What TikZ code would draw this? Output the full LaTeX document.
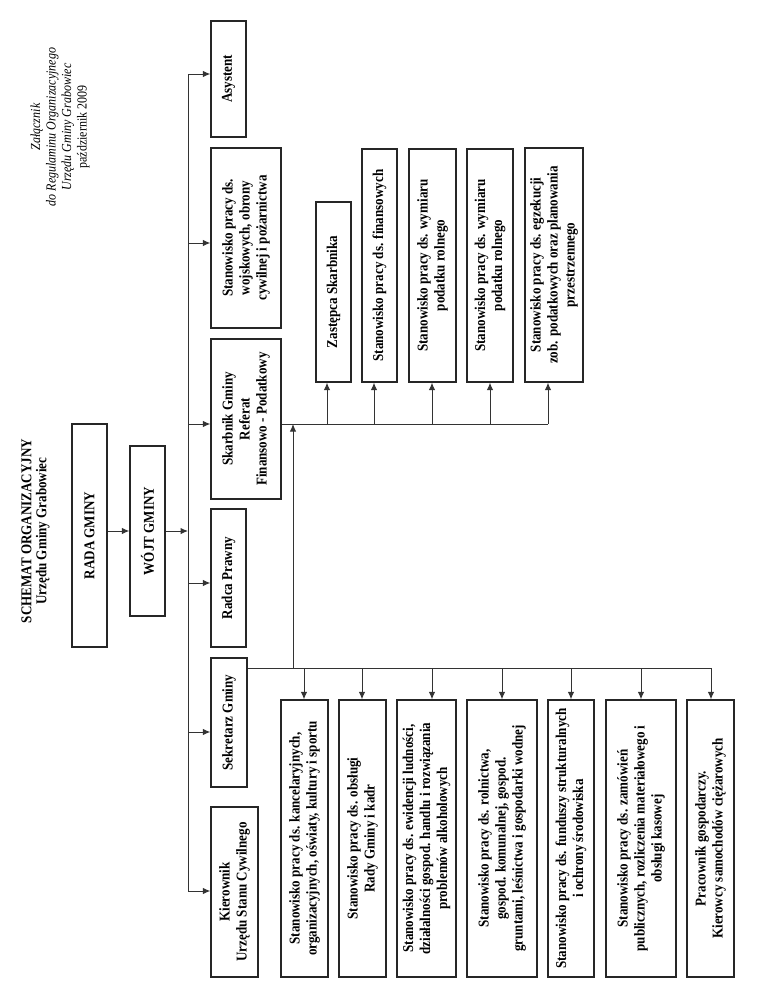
\documentclass[tikz,border=0pt]{standalone}
\usepackage{fontspec}
\setmainfont[FakeStretch=0.87]{Liberation Serif}
\usetikzlibrary{arrows.meta}
\begin{document}
\begin{tikzpicture}[x=1pt,y=-1pt,
  box/.style={draw=black!85, line width=1.3pt, rotate=90, inner sep=0pt, align=center,
              font=\bfseries\fontsize{15}{17}\selectfont},
  conn/.style={draw=black!80, line width=1pt},
  arr/.style={conn, -{Latex[length=7.5pt,width=6.5pt]}},
  lbl/.style={rotate=90, align=center, inner sep=0pt}
]
\path[use as bounding box] (0,0) rectangle (768,994);

% headings
\node[lbl, font=\bfseries\fontsize{15}{15}\selectfont] (title) at (35.5,531)
  {SCHEMAT ORGANIZACYJNY\\ Urzędu Gminy Grabowiec};
\node[lbl, font=\fontsize{13.8}{15.5}\selectfont] (zal) at (60,127)
  {{\itshape Załącznik}\\ {\itshape do Regulaminu Organizacyjnego}\\ {\itshape Urzędu Gminy Grabowiec}\\ październik 2009};

% top levels
\node[box, minimum width=223pt, minimum height=35pt] (rada) at (89.5,535.5) {RADA GMINY};
\node[box, minimum width=170pt, minimum height=35pt] (wojt) at (147.5,531) {WÓJT GMINY};

% level 1
\node[box, minimum width=116pt, minimum height=35pt] (asys) at (228.5,79) {Asystent};
\node[box, minimum width=180pt, minimum height=70pt] (obr) at (246,238)
  {Stanowisko pracy ds.\\ wojskowych, obrony\\ cywilnej i pożarnictwa};
\node[box, minimum width=160pt, minimum height=70pt] (skarb) at (246,419)
  {Skarbnik Gminy\\ Referat\\ Finansowo - Podatkowy};
\node[box, minimum width=138pt, minimum height=35pt] (radca) at (228.5,578) {Radca Prawny};
\node[box, minimum width=129pt, minimum height=36pt] (sekr) at (229,722.5) {Sekretarz Gminy};
\node[box, minimum width=170pt, minimum height=47pt] (kier) at (234.5,892)
  {Kierownik\\ Urzędu Stanu Cywilnego};

% Skarbnik subordinates
\node[box, minimum width=180pt, minimum height=35pt] (zast) at (333.5,292) {Zastępca Skarbnika};
\node[box, minimum width=233pt, minimum height=35pt] (fin) at (379.5,265.5) {Stanowisko pracy ds. finansowych};
\node[box, minimum width=233pt, minimum height=47pt] (wym1) at (432.5,265.5)
  {Stanowisko pracy ds. wymiaru\\ podatku rolnego};
\node[box, minimum width=233pt, minimum height=46pt] (wym2) at (490,265.5)
  {Stanowisko pracy ds. wymiaru\\ podatku rolnego};
\node[box, minimum width=234pt, minimum height=58pt] (egz) at (554,265)
  {Stanowisko pracy ds. egzekucji\\ zob. podatkowych oraz planowania\\ przestrzennego};

% Sekretarz subordinates
\node[box, minimum width=277pt, minimum height=47pt] (kanc) at (304.5,838.5)
  {Stanowisko pracy ds. kancelaryjnych,\\ organizacyjnych, oświaty, kultury i sportu};
\node[box, minimum width=277pt, minimum height=47pt] (rady) at (362.5,838.5)
  {Stanowisko pracy ds. obsługi\\ Rady Gminy i kadr};
\node[box, minimum width=277pt, minimum height=59pt] (ewid) at (426.5,838.5)
  {Stanowisko pracy ds. ewidencji ludności,\\ działalności gospod. handlu i rozwiązania\\ problemów alkoholowych};
\node[box, minimum width=277pt, minimum height=70pt] (roln) at (502,838.5)
  {Stanowisko pracy ds. rolnictwa,\\ gospod. komunalnej, gospod.\\ gruntami, leśnictwa i gospodarki wodnej};
\node[box, minimum width=277pt, minimum height=46pt] (fund) at (571,838.5)
  {Stanowisko pracy ds. funduszy strukturalnych\\ i ochrony środowiska};
\node[box, minimum width=277pt, minimum height=70pt] (zam) at (641,838.5)
  {Stanowisko pracy ds. zamówień\\ publicznych, rozliczenia materiałowego i\\ obsługi kasowej};
\node[box, minimum width=277pt, minimum height=47pt] (prac) at (710.5,838.5)
  {Pracownik gospodarczy.\\ Kierowcy samochodów ciężarowych};

% bus coordinates
\coordinate (mtop) at (188,74);
\coordinate (mbot) at (188,891);
\coordinate (mw) at (188,531);
\coordinate (skend) at (548,424);
\coordinate (seend) at (711,668);
\coordinate (vlow) at (293,668);
\coordinate (vhigh) at (293,424);

% connectors
\draw[arr] (rada.south |- wojt.center) -- (wojt.north);
\draw[arr] (wojt.south) -- (mw);
\draw[conn] (mtop) -- (mbot);
\draw[arr] (mtop) -- (asys.north |- mtop);
\draw[arr] (188,243) -- (obr.north |- 0,243);
\draw[arr] (188,424) -- (skarb.north |- 0,424);
\draw[arr] (188,583) -- (radca.north |- 0,583);
\draw[arr] (188,732) -- (sekr.north |- 0,732);
\draw[arr] (mbot) -- (kier.north |- mbot);

% Skarbnik bus
\draw[conn] (skarb.south |- skend) -- (skend);
\draw[arr] (327,424) -- (zast.west -| 327,0);
\draw[arr] (374,424) -- (fin.west -| 374,0);
\draw[arr] (432,424) -- (wym1.west -| 432,0);
\draw[arr] (490,424) -- (wym2.west -| 490,0);
\draw[arr] (skend) -- (egz.west -| skend);

% Sekretarz bus
\draw[conn] (sekr.south |- seend) -- (seend);
\draw[arr] (304,668) -- (kanc.east -| 304,0);
\draw[arr] (362,668) -- (rady.east -| 362,0);
\draw[arr] (432,668) -- (ewid.east -| 432,0);
\draw[arr] (502,668) -- (roln.east -| 502,0);
\draw[arr] (571,668) -- (fund.east -| 571,0);
\draw[arr] (641,668) -- (zam.east -| 641,0);
\draw[arr] (seend) -- (prac.east -| seend);

% link between buses
\draw[arr] (vlow) -- (vhigh);
\end{tikzpicture}
\end{document}
